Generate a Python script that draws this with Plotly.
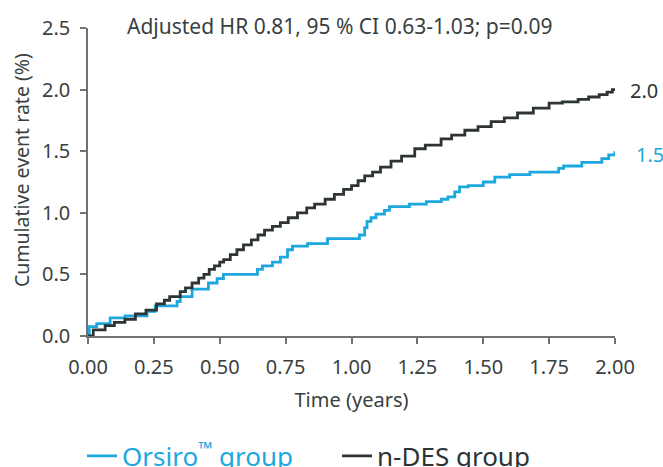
import plotly.graph_objects as go

# Orsiro group (blue) – Kaplan–Meier step points
orsiro_t = [0.0, 0.005, 0.033, 0.084, 0.141, 0.224, 0.255, 0.338, 0.35, 0.395, 0.457, 0.49, 0.514,
            0.643, 0.662, 0.70, 0.73, 0.757, 0.776, 0.833, 0.909, 1.03, 1.05, 1.059, 1.074, 1.093,
            1.125, 1.144, 1.22, 1.284, 1.341, 1.366, 1.392, 1.41, 1.443, 1.50, 1.544, 1.60, 1.677,
            1.786, 1.805, 1.874, 1.95, 1.976, 2.0]
orsiro_y = [0.0, 0.076, 0.10, 0.147, 0.163, 0.20, 0.245, 0.28, 0.32, 0.38, 0.43, 0.466, 0.50,
            0.54, 0.57, 0.60, 0.64, 0.70, 0.73, 0.75, 0.79, 0.82, 0.88, 0.93, 0.96, 0.99,
            1.02, 1.05, 1.07, 1.09, 1.11, 1.13, 1.17, 1.21, 1.22, 1.25, 1.29, 1.31, 1.33,
            1.36, 1.38, 1.41, 1.44, 1.47, 1.50]

# n-DES group (dark)
ndes_t = [0.0, 0.02, 0.065, 0.10, 0.14, 0.18, 0.22, 0.26, 0.29, 0.31, 0.35, 0.37, 0.395, 0.42,
          0.44, 0.46, 0.48, 0.50, 0.515, 0.54, 0.565, 0.59, 0.62, 0.645, 0.67, 0.70, 0.73, 0.76,
          0.795, 0.83, 0.86, 0.90, 0.935, 0.97, 1.00, 1.025, 1.05, 1.08, 1.11, 1.15, 1.19, 1.24,
          1.28, 1.34, 1.38, 1.43, 1.48, 1.53, 1.58, 1.63, 1.69, 1.75, 1.80, 1.86, 1.90, 1.94,
          1.97, 1.99, 2.0]
ndes_y = [0.0, 0.05, 0.084, 0.11, 0.136, 0.18, 0.21, 0.26, 0.29, 0.32, 0.36, 0.39, 0.43, 0.47,
          0.50, 0.54, 0.57, 0.60, 0.62, 0.66, 0.70, 0.74, 0.78, 0.82, 0.86, 0.89, 0.92, 0.96,
          1.00, 1.04, 1.07, 1.11, 1.15, 1.19, 1.22, 1.26, 1.30, 1.33, 1.37, 1.42, 1.46, 1.52,
          1.55, 1.60, 1.63, 1.67, 1.70, 1.74, 1.77, 1.81, 1.85, 1.89, 1.90, 1.92, 1.94, 1.96,
          1.98, 2.00, 2.00]

x_ticks = [0, 0.25, 0.5, 0.75, 1.0, 1.25, 1.5, 1.75, 2.0]
y_ticks = [0, 0.5, 1.0, 1.5, 2.0, 2.5]
end_labels = ["2.0", "1.5"]
stat_text = "Adjusted HR 0.81, 95 % CI 0.63-1.03; p=0.09"
y_title = "Cumulative event rate (%)"
x_title = "Time (years)"

BLUE = "#1da7df"
DARK = "#2c3436"
GRAY = "#3a3f41"
AXIS = "#6e7375"
FONT = "Noto Sans"

fig = go.Figure()
fig.add_trace(go.Scatter(
    x=orsiro_t, y=orsiro_y, mode="lines", line=dict(color=BLUE, width=2.8, shape="hv"),
    name=f"<span style='color:{BLUE}'>Orsiro<sup>™</sup> group</span>"))
fig.add_trace(go.Scatter(
    x=ndes_t, y=ndes_y, mode="lines", line=dict(color=DARK, width=2.8, shape="hv"),
    name=f"<span style='color:{DARK}'>n-DES group</span>"))

fig.add_annotation(x=ndes_t[-1], y=ndes_y[-1], text=end_labels[0], showarrow=False,
                   xanchor="left", xshift=13, yshift=-1, font=dict(size=20, color=DARK, family=FONT))
fig.add_annotation(x=orsiro_t[-1], y=orsiro_y[-1], text=end_labels[1], showarrow=False,
                   xanchor="left", xshift=19, yshift=-3, font=dict(size=20, color=BLUE, family=FONT))
fig.add_annotation(x=0.478, xref="paper", y=1.005, yref="paper", text=stat_text, showarrow=False,
                   xanchor="center", yanchor="middle", font=dict(size=21, color=GRAY, family=FONT))
fig.add_annotation(x=-0.125, xref="paper", y=0.539, yref="paper", text=y_title, showarrow=False,
                   textangle=-90, xanchor="center", yanchor="middle",
                   font=dict(size=19.5, color=GRAY, family=FONT))

fig.update_layout(
    width=663, height=467,
    margin=dict(l=88, r=48, t=28, b=131, autoexpand=False),
    paper_bgcolor="white", plot_bgcolor="white",
    font=dict(family=FONT, color=GRAY, size=20),
    showlegend=True,
    legend=dict(orientation="h", x=0.1237, xanchor="left", xref="container",
                y=0.0235, yref="container", yanchor="middle",
                font=dict(size=26, family=FONT), itemwidth=30, traceorder="normal",
                entrywidth=210, entrywidthmode="pixels"),
    xaxis=dict(range=[0, 2], tickvals=x_ticks, ticktext=[f"{v:.2f}" for v in x_ticks],
               showgrid=False, zeroline=False, showline=True, linecolor=AXIS, linewidth=1.5,
               ticks="outside", ticklen=6, tickcolor=AXIS, tickwidth=1.5, automargin=False,
               ticklabelstandoff=6,
               title=dict(text=x_title, font=dict(size=20), standoff=14),
               tickfont=dict(size=20)),
    yaxis=dict(range=[0, 2.5], tickvals=y_ticks, ticktext=[f"{v:.1f}" for v in y_ticks],
               showgrid=False, zeroline=False, showline=True, linecolor=AXIS, linewidth=1.5,
               ticks="outside", ticklen=6, tickcolor=AXIS, tickwidth=1.5, automargin=False,
               ticklabelstandoff=6, tickfont=dict(size=20)),
)

fig.write_html("out.html", config={"displayModeBar": False})

# remove the browser's default body margin so the figure sits at the page origin
with open("out.html", encoding="utf-8") as f:
    html = f.read()
html = html.replace("<body>", '<body style="margin:0;padding:0;">', 1)
with open("out.html", "w", encoding="utf-8") as f:
    f.write(html)
